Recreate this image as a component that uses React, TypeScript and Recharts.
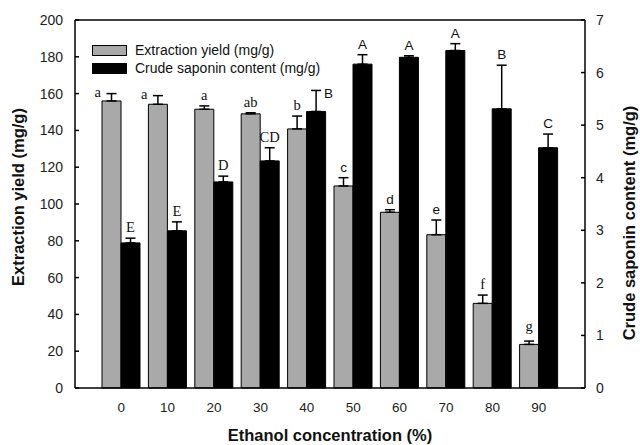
import React from 'react';
import { BarChart, Bar, XAxis, YAxis, ErrorBar, LabelList, Label, ReferenceLine } from 'recharts';

const concentrations = ['0', '10', '20', '30', '40', '50', '60', '70', '80', '90'];
const yieldMean = [156, 154.2, 151.5, 149, 140.8, 109.8, 95.5, 83.3, 46, 23.7];
const yieldErr = [4, 4.7, 1.8, 0.6, 7, 4.5, 1.4, 8, 4.5, 1.8];
const saponinMean = [2.76, 2.99, 3.92, 4.32, 5.26, 6.16, 6.29, 6.42, 5.31, 4.57];
const saponinErr = [0.09, 0.17, 0.11, 0.25, 0.4, 0.18, 0.03, 0.13, 0.83, 0.26];
const yieldLetters = ['a', 'a', 'a', 'ab', 'b', 'c', 'd', 'e', 'f', 'g'];
const saponinLetters = ['E', 'E', 'D', 'CD', 'B', 'A', 'A', 'A', 'B', 'C'];
const yieldTicks = [0, 20, 40, 60, 80, 100, 120, 140, 160, 180, 200];
const saponinTicks = [0, 1, 2, 3, 4, 5, 6, 7];

const yieldLetterSide = ['left', 'left', 'top', 'top', 'top', 'top', 'top', 'top', 'top', 'top'];
const saponinLetterSide = ['top', 'top', 'top', 'top', 'right', 'top', 'top', 'top', 'top', 'top'];
const yieldSans = [false, false, false, false, false, true, true, true, false, false];
const saponinSans = [false, false, false, false, true, true, true, true, true, true];

const data = concentrations.map((c, i) => ({
  conc: c,
  yield: yieldMean[i],
  yieldErr: [0, yieldErr[i]],
  saponin: saponinMean[i],
  saponinErr: [0, saponinErr[i]],
}));

const SANS = 'Liberation Sans, Arial, sans-serif';
const SERIF = 'Liberation Serif, Times New Roman, serif';

function makeLetterRenderer(letters: string[], errs: number[], means: number[], sides: string[], sans: boolean[]) {
  return (props: any) => {
    const { x, y, width, height, index } = props;
    const pxPerUnit = height / means[index];
    const capY = y - errs[index] * pxPerUnit;
    const cx = x + width / 2;
    const side = sides[index];
    const font = sans[index] ? SANS : SERIF;
    const size = sans[index] ? 13.5 : 14.5;
    const descender = /[gpqy]/.test(letters[index]) ? 4 : 0;
    if (side === 'left') {
      return (
        <text x={x - 1} y={capY + 3} textAnchor="end" fontFamily={font} fontSize={size} fill="#111">
          {letters[index]}
        </text>
      );
    }
    if (side === 'right') {
      return (
        <text x={cx + 8} y={capY + 8} textAnchor="start" fontFamily={font} fontSize={size} fill="#111">
          {letters[index]}
        </text>
      );
    }
    return (
      <text x={cx} y={capY - 6 - descender} textAnchor="middle" fontFamily={font} fontSize={size} fill="#111">
        {letters[index]}
      </text>
    );
  };
}

export default function App() {
  return (
    <div style={{ position: 'absolute', left: 0, top: 0, width: 640, height: 445, background: '#fff' }}>
      <BarChart
        width={640}
        height={445}
        data={data}
        margin={{ top: 20, right: 0, bottom: 0, left: 0 }}
        barGap={0}
        barSize={19}
      >
        <XAxis
          dataKey="conc"
          height={57}
          padding={{ left: 23, right: 23 }}
          tickLine={false}
          tickSize={0}
          tickMargin={14}
          axisLine={{ stroke: '#000', strokeWidth: 1.5 }}
          tick={{ fontFamily: SANS, fontSize: 13.5, fill: '#222' }}
        >
          <Label
            content={(p: any) => {
              const vb = p.viewBox;
              return (
                <text x={vb.x + vb.width / 2} y={vb.y + 53} textAnchor="middle" fontFamily={SANS} fontWeight="bold" fontSize={16.5} fill="#111">
                  Ethanol concentration (%)
                </text>
              );
            }}
          />
        </XAxis>
        <YAxis
          yAxisId="left"
          width={75}
          domain={[0, 200]}
          ticks={yieldTicks}
          interval={0}
          tickSize={-4}
          tickMargin={16}
          tickLine={{ stroke: '#000', strokeWidth: 1.5 }}
          axisLine={{ stroke: '#000', strokeWidth: 1.5 }}
          tick={{ fontFamily: SANS, fontSize: 14, fill: '#222' }}
        >
          <Label
            content={(p: any) => {
              const vb = p.viewBox;
              const cy = vb.y + vb.height / 2 - 7;
              return (
                <text x={18} y={cy} transform={`rotate(-90, 18, ${cy})`} textAnchor="middle" dominantBaseline="central" fontFamily={SANS} fontWeight="bold" fontSize={16.5} fill="#111">
                  Extraction yield (mg/g)
                </text>
              );
            }}
          />
        </YAxis>
        <YAxis
          yAxisId="right"
          orientation="right"
          width={55}
          domain={[0, 7]}
          ticks={saponinTicks}
          interval={0}
          tickSize={-4}
          tickMargin={15}
          tickLine={{ stroke: '#000', strokeWidth: 1.5 }}
          axisLine={{ stroke: '#000', strokeWidth: 1.5 }}
          tick={{ fontFamily: SANS, fontSize: 14, fill: '#222' }}
        >
          <Label
            content={(p: any) => {
              const vb = p.viewBox;
              const cy = vb.y + vb.height / 2 + 19;
              return (
                <text x={629} y={cy} transform={`rotate(-90, 629, ${cy})`} textAnchor="middle" dominantBaseline="central" fontFamily={SANS} fontWeight="bold" fontSize={16.5} fill="#111">
                  Crude saponin content (mg/g)
                </text>
              );
            }}
          />
        </YAxis>
        <ReferenceLine yAxisId="left" y={200} stroke="#000" strokeWidth={1.5} />
        <Bar yAxisId="left" dataKey="yield" name="Extraction yield (mg/g)" fill="#a9a9a9" stroke="#000" strokeWidth={1} isAnimationActive={false}>
          <ErrorBar dataKey="yieldErr" width={5} stroke="#000" strokeWidth={1.5} direction="y" />
          <LabelList dataKey="yield" content={makeLetterRenderer(yieldLetters, yieldErr, yieldMean, yieldLetterSide, yieldSans)} />
        </Bar>
        <Bar yAxisId="right" dataKey="saponin" name="Crude saponin content (mg/g)" fill="#000" stroke="#000" strokeWidth={1} isAnimationActive={false}>
          <ErrorBar dataKey="saponinErr" width={5} stroke="#000" strokeWidth={1.5} direction="y" />
          <LabelList dataKey="saponin" content={makeLetterRenderer(saponinLetters, saponinErr, saponinMean, saponinLetterSide, saponinSans)} />
        </Bar>
      </BarChart>
      <div style={{ position: 'absolute', left: 92, top: 41, fontFamily: SANS, fontSize: 14, color: '#111', lineHeight: '18px' }}>
        <div style={{ display: 'flex', alignItems: 'center', height: 18 }}>
          <div style={{ width: 33, height: 9, background: '#a9a9a9', border: '1px solid #000', marginRight: 8 }} />
          <span>Extraction yield (mg/g)</span>
        </div>
        <div style={{ display: 'flex', alignItems: 'center', height: 18 }}>
          <div style={{ width: 35, height: 11, background: '#000', marginRight: 8 }} />
          <span>Crude saponin content (mg/g)</span>
        </div>
      </div>
    </div>
  );
}
